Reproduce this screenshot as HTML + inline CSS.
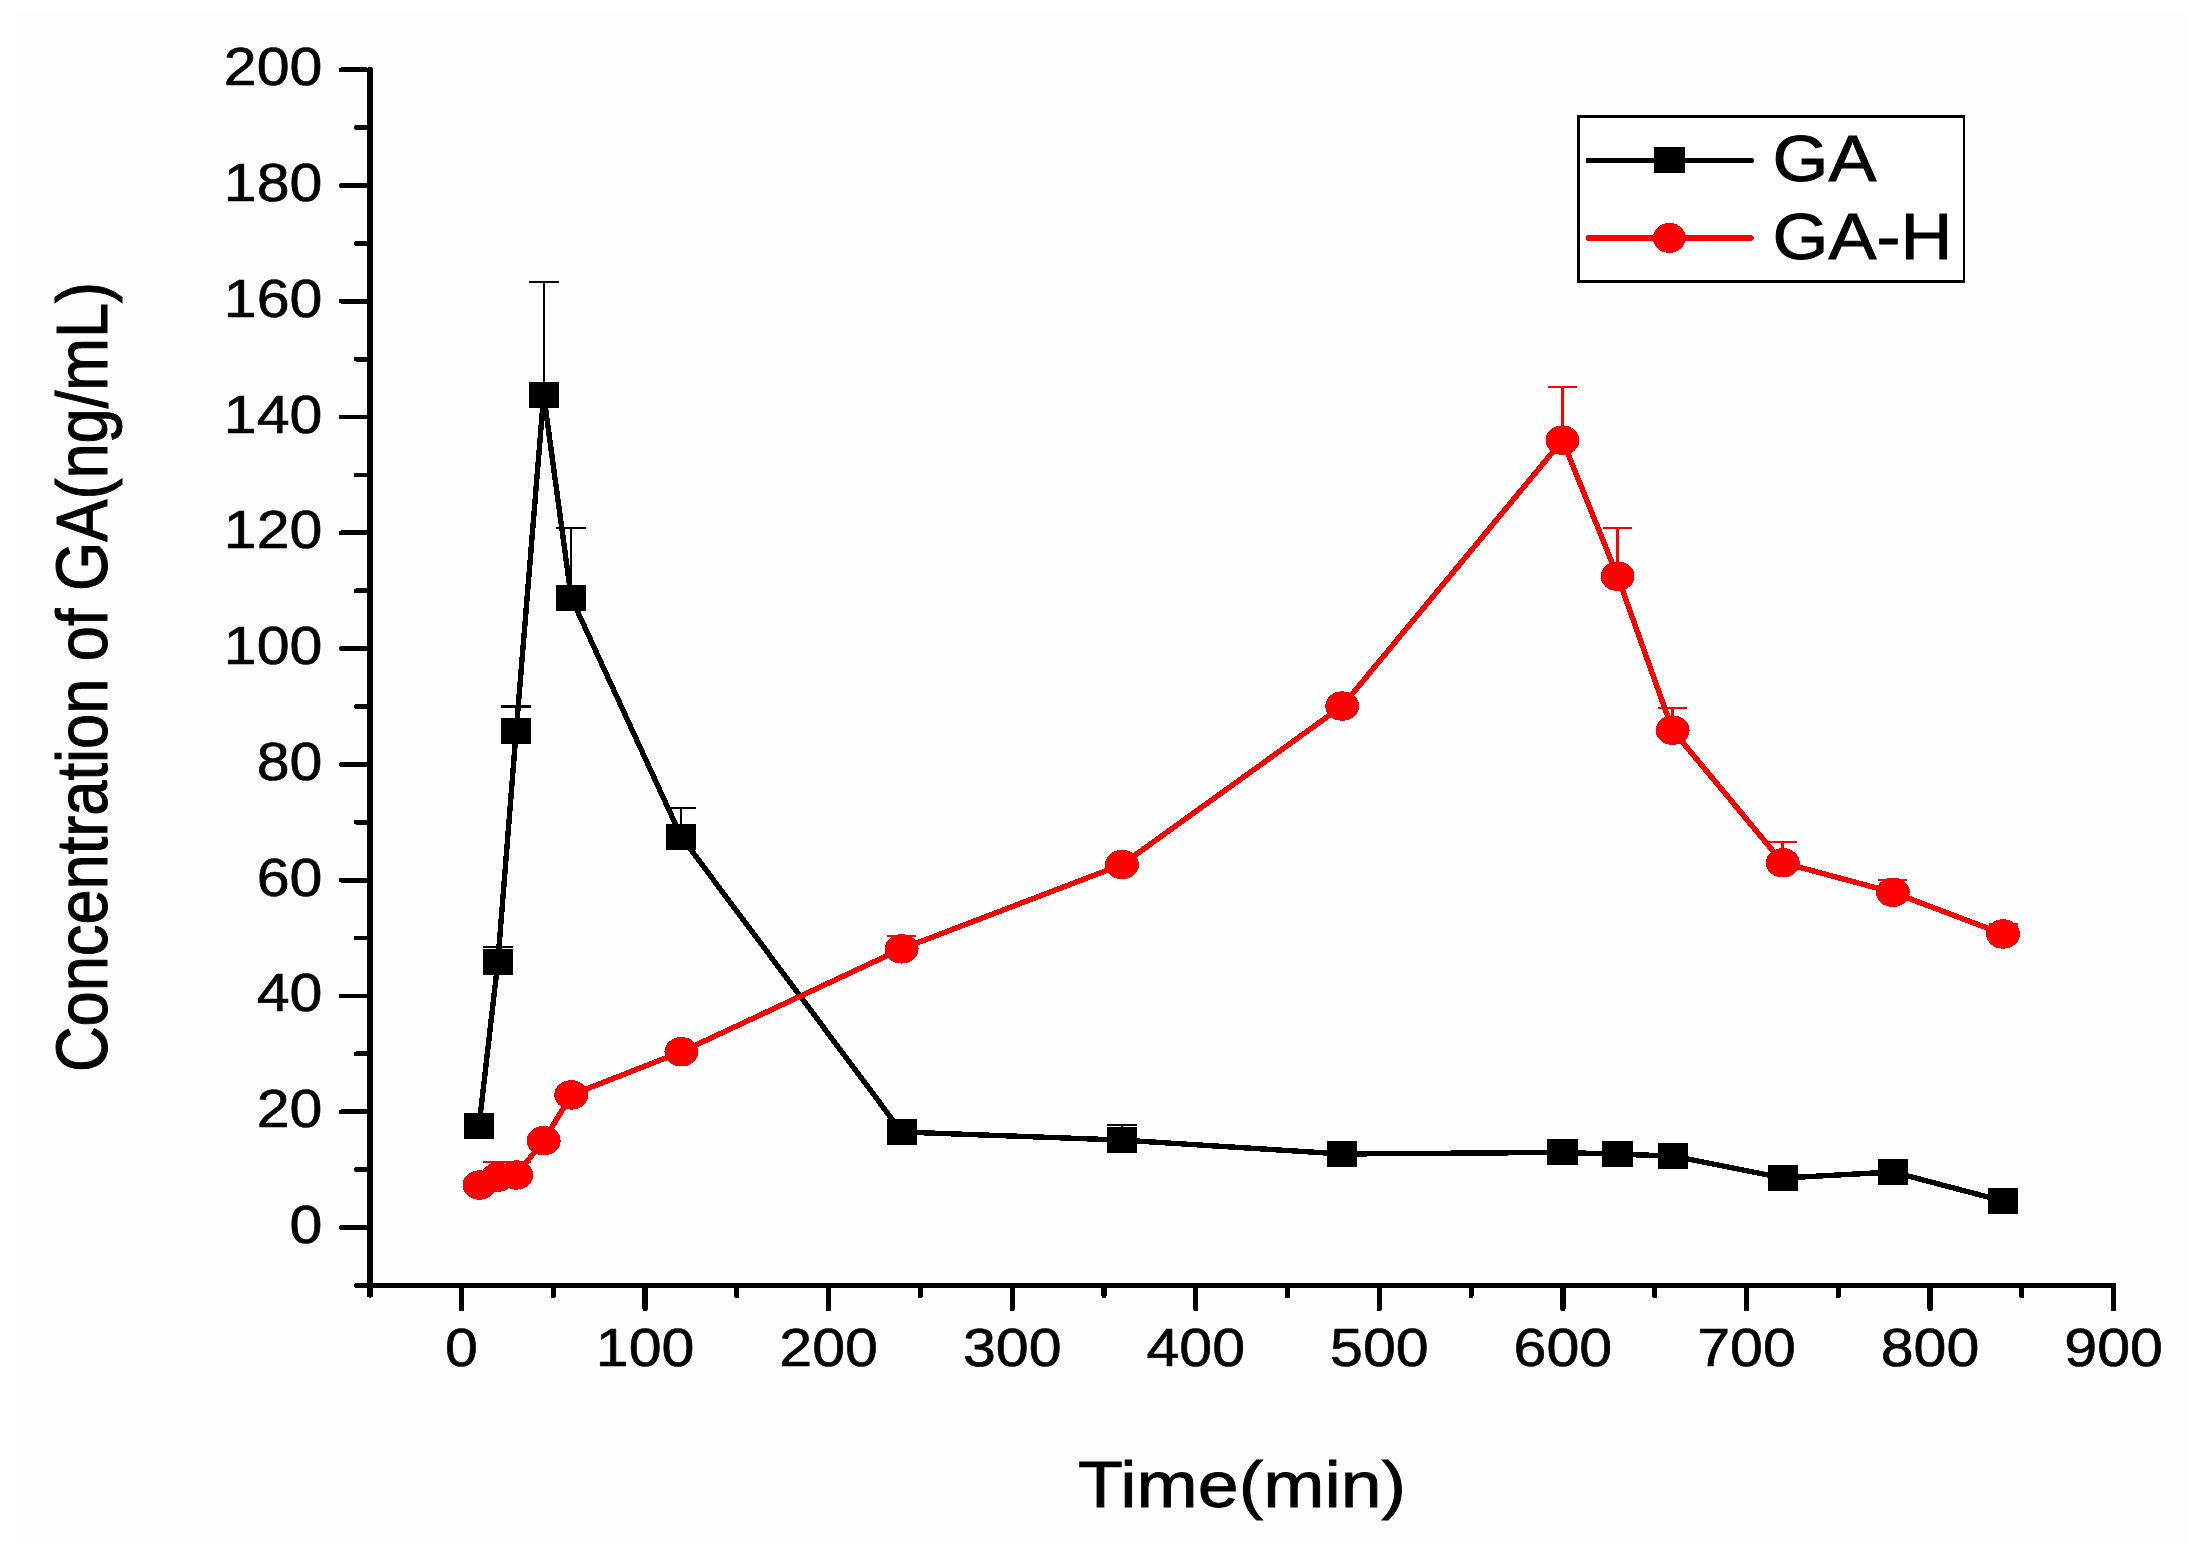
<!DOCTYPE html>
<html lang="en">
<head>
<meta charset="utf-8">
<title>Concentration of GA over time</title>
<style>
html,body{margin:0;padding:0;background:#fff;}
body{width:2199px;height:1555px;overflow:hidden;}
svg{display:block;}
text{font-family:"Liberation Sans",Arial,Helvetica,sans-serif;fill:#000;}
.tk{font-size:54px;stroke:#000;stroke-width:0.6px;}
.ti{font-size:65.3px;stroke:#000;stroke-width:0.8px;}
.yl{font-size:63.2px;stroke:#000;stroke-width:0.9px;}
.lg{font-size:65.5px;stroke:#000;stroke-width:0.9px;}
</style>
</head>
<body>
<svg width="2199" height="1555" viewBox="0 0 2199 1555" shape-rendering="crispEdges">
<rect x="0" y="0" width="2199" height="1555" fill="#ffffff"/>
<rect x="16" y="10" width="2174" height="1536" fill="#fefefe"/>

<g fill="#000">
<rect x="367" y="67.3" width="6.2" height="1230.3" rx="2.5" ry="2.5"/>
<rect x="354.2" y="1283.1" width="1761.8" height="4.5" rx="1.5"/>
<rect x="339" y="1225.15" width="30" height="4.7" rx="2"/>
<rect x="354" y="1167.26" width="15" height="4.7" rx="2"/>
<rect x="339" y="1109.37" width="30" height="4.7" rx="2"/>
<rect x="354" y="1051.48" width="15" height="4.7" rx="2"/>
<rect x="339" y="993.59" width="30" height="4.7" rx="2"/>
<rect x="354" y="935.70" width="15" height="4.7" rx="2"/>
<rect x="339" y="877.81" width="30" height="4.7" rx="2"/>
<rect x="354" y="819.92" width="15" height="4.7" rx="2"/>
<rect x="339" y="762.03" width="30" height="4.7" rx="2"/>
<rect x="354" y="704.14" width="15" height="4.7" rx="2"/>
<rect x="339" y="646.25" width="30" height="4.7" rx="2"/>
<rect x="354" y="588.36" width="15" height="4.7" rx="2"/>
<rect x="339" y="530.47" width="30" height="4.7" rx="2"/>
<rect x="354" y="472.58" width="15" height="4.7" rx="2"/>
<rect x="339" y="414.69" width="30" height="4.7" rx="2"/>
<rect x="354" y="356.80" width="15" height="4.7" rx="2"/>
<rect x="339" y="298.91" width="30" height="4.7" rx="2"/>
<rect x="354" y="241.02" width="15" height="4.7" rx="2"/>
<rect x="339" y="183.13" width="30" height="4.7" rx="2"/>
<rect x="354" y="125.24" width="15" height="4.7" rx="2"/>
<rect x="339" y="67.35" width="30" height="4.7" rx="2"/>
<rect x="458.80" y="1285" width="5.4" height="26.3" rx="2.4"/>
<rect x="550.68" y="1285" width="5.2" height="13.2" rx="2.4"/>
<rect x="642.37" y="1285" width="5.4" height="26.3" rx="2.4"/>
<rect x="734.25" y="1285" width="5.2" height="13.2" rx="2.4"/>
<rect x="825.93" y="1285" width="5.4" height="26.3" rx="2.4"/>
<rect x="917.82" y="1285" width="5.2" height="13.2" rx="2.4"/>
<rect x="1009.50" y="1285" width="5.4" height="26.3" rx="2.4"/>
<rect x="1101.38" y="1285" width="5.2" height="13.2" rx="2.4"/>
<rect x="1193.07" y="1285" width="5.4" height="26.3" rx="2.4"/>
<rect x="1284.95" y="1285" width="5.2" height="13.2" rx="2.4"/>
<rect x="1376.63" y="1285" width="5.4" height="26.3" rx="2.4"/>
<rect x="1468.52" y="1285" width="5.2" height="13.2" rx="2.4"/>
<rect x="1560.20" y="1285" width="5.4" height="26.3" rx="2.4"/>
<rect x="1652.09" y="1285" width="5.2" height="13.2" rx="2.4"/>
<rect x="1743.77" y="1285" width="5.4" height="26.3" rx="2.4"/>
<rect x="1835.65" y="1285" width="5.2" height="13.2" rx="2.4"/>
<rect x="1927.34" y="1285" width="5.4" height="26.3" rx="2.4"/>
<rect x="2019.22" y="1285" width="5.2" height="13.2" rx="2.4"/>
<rect x="2110.90" y="1285" width="5.4" height="26.3" rx="2.4"/>
</g>
<g class="tk">
<text transform="translate(322.5,1243.00) scale(1.095,1)" text-anchor="end">0</text>
<text transform="translate(322.5,1127.22) scale(1.095,1)" text-anchor="end">20</text>
<text transform="translate(322.5,1011.44) scale(1.095,1)" text-anchor="end">40</text>
<text transform="translate(322.5,895.66) scale(1.095,1)" text-anchor="end">60</text>
<text transform="translate(322.5,779.88) scale(1.095,1)" text-anchor="end">80</text>
<text transform="translate(322.5,664.10) scale(1.095,1)" text-anchor="end">100</text>
<text transform="translate(322.5,548.32) scale(1.095,1)" text-anchor="end">120</text>
<text transform="translate(322.5,432.54) scale(1.095,1)" text-anchor="end">140</text>
<text transform="translate(322.5,316.76) scale(1.095,1)" text-anchor="end">160</text>
<text transform="translate(322.5,200.98) scale(1.095,1)" text-anchor="end">180</text>
<text transform="translate(322.5,85.20) scale(1.095,1)" text-anchor="end">200</text>
<text transform="translate(461.50,1365.5) scale(1.095,1)" text-anchor="middle">0</text>
<text transform="translate(645.07,1365.5) scale(1.095,1)" text-anchor="middle">100</text>
<text transform="translate(828.63,1365.5) scale(1.095,1)" text-anchor="middle">200</text>
<text transform="translate(1012.20,1365.5) scale(1.095,1)" text-anchor="middle">300</text>
<text transform="translate(1195.77,1365.5) scale(1.095,1)" text-anchor="middle">400</text>
<text transform="translate(1379.34,1365.5) scale(1.095,1)" text-anchor="middle">500</text>
<text transform="translate(1562.90,1365.5) scale(1.095,1)" text-anchor="middle">600</text>
<text transform="translate(1746.47,1365.5) scale(1.095,1)" text-anchor="middle">700</text>
<text transform="translate(1930.04,1365.5) scale(1.095,1)" text-anchor="middle">800</text>
<text transform="translate(2113.60,1365.5) scale(1.095,1)" text-anchor="middle">900</text>
</g>
<text class="ti" transform="translate(1242.1,1506.9) scale(1.126,1)" text-anchor="middle">Time(min)</text>
<text class="yl" transform="translate(107.4,677.0) scale(1.145,1) rotate(-90)" text-anchor="middle">Concentration of GA(ng/mL)</text>
<rect x="496.81" y="946.73" width="2" height="15.28" fill="#000"/>
<rect x="482.81" y="945.73" width="30" height="2.1" fill="#000"/>
<rect x="515.17" y="706.49" width="2" height="24.49" fill="#000"/>
<rect x="501.17" y="705.49" width="30" height="2.1" fill="#000"/>
<rect x="542.71" y="282.16" width="2" height="112.89" fill="#000"/>
<rect x="528.71" y="281.16" width="30" height="2.1" fill="#000"/>
<rect x="570.24" y="528.19" width="2" height="69.47" fill="#000"/>
<rect x="556.24" y="527.19" width="30" height="2.1" fill="#000"/>
<rect x="680.38" y="808.03" width="2" height="28.94" fill="#000"/>
<rect x="666.38" y="807.03" width="30" height="2.1" fill="#000"/>
<rect x="1120.94" y="1125.03" width="2" height="15.05" fill="#000"/>
<rect x="1106.94" y="1124.03" width="30" height="2.1" fill="#000"/>
<polyline points="479.00,1126.19 497.81,962.02 516.17,730.98 543.71,395.04 571.24,597.66 681.38,836.97 901.66,1131.98 1121.94,1140.09 1342.22,1153.98 1562.50,1152.42 1617.57,1154.27 1672.64,1155.89 1782.78,1178.00 1892.92,1171.98 2003.06,1200.99" fill="none" stroke="#000" stroke-width="5.4" stroke-linejoin="round"/>
<rect x="463.90" y="1113.19" width="30.2" height="26" fill="#000"/>
<rect x="482.71" y="949.02" width="30.2" height="26" fill="#000"/>
<rect x="501.07" y="717.98" width="30.2" height="26" fill="#000"/>
<rect x="528.61" y="382.04" width="30.2" height="26" fill="#000"/>
<rect x="556.14" y="584.66" width="30.2" height="26" fill="#000"/>
<rect x="666.28" y="823.97" width="30.2" height="26" fill="#000"/>
<rect x="886.56" y="1118.98" width="30.2" height="26" fill="#000"/>
<rect x="1106.84" y="1127.09" width="30.2" height="26" fill="#000"/>
<rect x="1327.12" y="1140.98" width="30.2" height="26" fill="#000"/>
<rect x="1547.40" y="1139.42" width="30.2" height="26" fill="#000"/>
<rect x="1602.47" y="1141.27" width="30.2" height="26" fill="#000"/>
<rect x="1657.54" y="1142.89" width="30.2" height="26" fill="#000"/>
<rect x="1767.68" y="1165.00" width="30.2" height="26" fill="#000"/>
<rect x="1877.82" y="1158.98" width="30.2" height="26" fill="#000"/>
<rect x="1987.96" y="1187.99" width="30.2" height="26" fill="#000"/>
<rect x="496.31" y="1161.51" width="3" height="15.63" fill="#ff0000"/>
<rect x="483.31" y="1160.51" width="29" height="2.1" fill="#ff0000"/>
<rect x="514.67" y="1161.51" width="3" height="13.49" fill="#ff0000"/>
<rect x="501.67" y="1160.51" width="29" height="2.1" fill="#ff0000"/>
<rect x="900.16" y="936.31" width="3" height="12.50" fill="#ff0000"/>
<rect x="887.16" y="935.31" width="29" height="2.1" fill="#ff0000"/>
<rect x="1561.00" y="386.94" width="3" height="53.26" fill="#ff0000"/>
<rect x="1548.00" y="385.94" width="29" height="2.1" fill="#ff0000"/>
<rect x="1616.07" y="528.19" width="3" height="48.05" fill="#ff0000"/>
<rect x="1603.07" y="527.19" width="29" height="2.1" fill="#ff0000"/>
<rect x="1671.14" y="708.23" width="3" height="22.00" fill="#ff0000"/>
<rect x="1658.14" y="707.23" width="29" height="2.1" fill="#ff0000"/>
<rect x="1781.28" y="841.95" width="3" height="20.84" fill="#ff0000"/>
<rect x="1768.28" y="840.95" width="29" height="2.1" fill="#ff0000"/>
<rect x="1891.42" y="879.58" width="3" height="12.74" fill="#ff0000"/>
<rect x="1878.42" y="878.58" width="29" height="2.1" fill="#ff0000"/>
<rect x="2001.56" y="923.58" width="3" height="10.42" fill="#ff0000"/>
<rect x="1988.56" y="922.58" width="29" height="2.1" fill="#ff0000"/>
<polyline points="479.46,1185.01 497.81,1177.14 516.17,1174.99 543.71,1140.66 571.24,1094.93 681.38,1051.80 901.66,948.82 1121.94,864.59 1342.22,706.03 1562.50,440.20 1617.57,576.24 1672.64,730.22 1782.78,862.79 1892.92,892.32 2003.06,934.00" fill="none" stroke="#ff0000" stroke-width="5.4" stroke-linejoin="round"/>
<ellipse cx="479.46" cy="1185.01" rx="16.9" ry="14.7" fill="#ff0000"/>
<ellipse cx="497.81" cy="1177.14" rx="16.9" ry="14.7" fill="#ff0000"/>
<ellipse cx="516.17" cy="1174.99" rx="16.9" ry="14.7" fill="#ff0000"/>
<ellipse cx="543.71" cy="1140.66" rx="16.9" ry="14.7" fill="#ff0000"/>
<ellipse cx="571.24" cy="1094.93" rx="16.9" ry="14.7" fill="#ff0000"/>
<ellipse cx="681.38" cy="1051.80" rx="16.9" ry="14.7" fill="#ff0000"/>
<ellipse cx="901.66" cy="948.82" rx="16.9" ry="14.7" fill="#ff0000"/>
<ellipse cx="1121.94" cy="864.59" rx="16.9" ry="14.7" fill="#ff0000"/>
<ellipse cx="1342.22" cy="706.03" rx="16.9" ry="14.7" fill="#ff0000"/>
<ellipse cx="1562.50" cy="440.20" rx="16.9" ry="14.7" fill="#ff0000"/>
<ellipse cx="1617.57" cy="576.24" rx="16.9" ry="14.7" fill="#ff0000"/>
<ellipse cx="1672.64" cy="730.22" rx="16.9" ry="14.7" fill="#ff0000"/>
<ellipse cx="1782.78" cy="862.79" rx="16.9" ry="14.7" fill="#ff0000"/>
<ellipse cx="1892.92" cy="892.32" rx="16.9" ry="14.7" fill="#ff0000"/>
<ellipse cx="2003.06" cy="934.00" rx="16.9" ry="14.7" fill="#ff0000"/>
<rect x="1578.25" y="116.25" width="385.5" height="165" fill="#fff" stroke="#000" stroke-width="2.5"/>
<rect x="1585.6" y="157.8" width="168.2" height="5.4" rx="2.7" fill="#000"/>
<rect x="1654" y="147" width="31" height="25.8" fill="#000"/>
<rect x="1585.6" y="235.3" width="168.2" height="5.4" rx="2.7" fill="#ff0000"/>
<ellipse cx="1669.3" cy="237.9" rx="16.3" ry="15" fill="#ff0000"/>
<text class="lg" transform="translate(1772.6,180.8) scale(1.098,1)">GA</text>
<text class="lg" transform="translate(1772.6,259.1) scale(1.098,1)">GA-H</text>
</svg>
</body>
</html>
